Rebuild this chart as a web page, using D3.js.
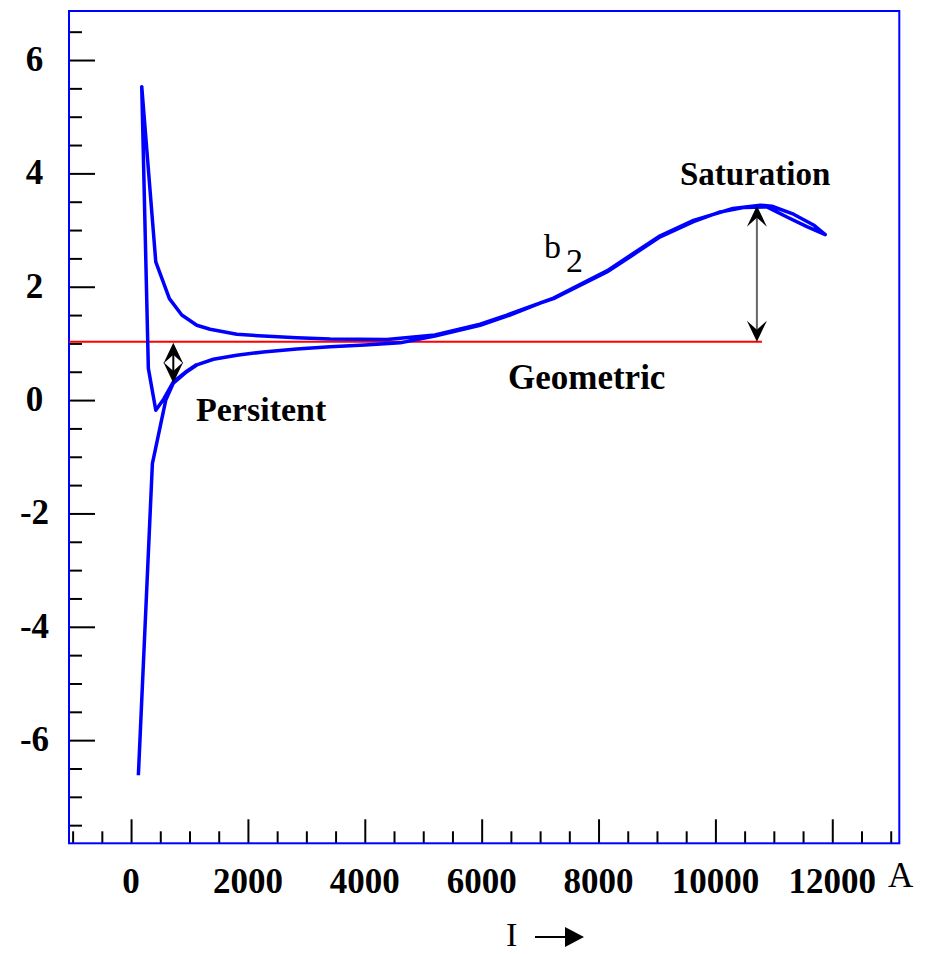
<!DOCTYPE html>
<html>
<head>
<meta charset="utf-8">
<script src="https://cdn.jsdelivr.net/npm/d3@7"></script>
<style>
  body { margin: 0; background: #fff; }
  text { font-family: "Liberation Serif", "Times New Roman", serif; fill: #000; }
</style>
</head>
<body>
<div id="chart"></div>
<script>
var width = 935
var height = 954

// b2 loop, traced in order: ramp up, ramp down, then the re-ramp at low current
var rampUpI  = [125, 365, 594, 724, 953, 1125, 1409, 1809, 2265, 2836, 3406, 4000, 4605, 5200, 5974, 6431, 7001, 7229, 8143, 8542, 9055, 9625, 10082, 10500, 10881, 11224, 11566, 11880]
var rampUpB2 = [-6.62, -1.12, 0.0, 0.30, 0.50, 0.62, 0.72, 0.79, 0.85, 0.90, 0.94, 0.97, 1.01, 1.13, 1.32, 1.48, 1.71, 1.79, 2.26, 2.53, 2.88, 3.15, 3.32, 3.40, 3.41, 3.23, 3.06, 2.92]

var rampDownI  = [11880, 11679, 11337, 10967, 10767, 10300, 9625, 9055, 8542, 8143, 7229, 6431, 5974, 5200, 4377, 3406, 2836, 2265, 1809, 1352, 1125, 868, 656, 423, 183]
var rampDownB2 = [2.92, 3.09, 3.28, 3.42, 3.44, 3.38, 3.17, 2.90, 2.55, 2.28, 1.80, 1.50, 1.34, 1.15, 1.07, 1.08, 1.10, 1.13, 1.16, 1.25, 1.32, 1.50, 1.79, 2.44, 5.53]

var reRampI  = [183, 296, 423, 560, 724, 953, 1125]
var reRampB2 = [5.53, 0.56, -0.18, 0.02, 0.32, 0.51, 0.63]

var geometricB2 = 1.03
var geometricEndI = 10796

var xTickLabels = [0, 2000, 4000, 6000, 8000, 10000, 12000]
var yTickLabels = [-6, -4, -2, 0, 2, 4, 6]

var svg = d3.select("#chart")
  .append("svg")
  .attr("width", width)
  .attr("height", height)

var x = d3.scaleLinear().domain([-1062, 13147]).range([69, 899.3])
var y = d3.scaleLinear().domain([-7.82, 6.865]).range([843.3, 11])

// ticks: y ticks point right from the left edge, x ticks point up from the bottom
var yMinor = d3.range(-7.5, 6.6, 0.5).filter(function (v) { return Math.abs(v % 2) > 0.01 })
var xMinor = d3.range(-1000, 13001, 500).filter(function (v) { return v % 2000 !== 0 })

svg.append("g")
  .attr("transform", "translate(69,0)")
  .call(d3.axisLeft(y).tickValues(yTickLabels).tickSize(-26).tickFormat(""))
svg.append("g")
  .attr("transform", "translate(69,0)")
  .call(d3.axisLeft(y).tickValues(yMinor).tickSize(-13).tickFormat(""))
svg.append("g")
  .attr("transform", "translate(0,843.3)")
  .call(d3.axisBottom(x).tickValues(xTickLabels).tickSize(-24).tickFormat(""))
svg.append("g")
  .attr("transform", "translate(0,843.3)")
  .call(d3.axisBottom(x).tickValues(xMinor).tickSize(-12).tickFormat(""))

svg.selectAll(".domain").remove()
svg.selectAll(".tick line").attr("stroke", "#000").attr("stroke-width", 2)

// frame
svg.append("rect")
  .attr("x", 69).attr("y", 11)
  .attr("width", 899.3 - 69).attr("height", 843.3 - 11)
  .attr("fill", "none")
  .attr("stroke", "#0000ff")
  .attr("stroke-width", 2)

// tick labels
svg.selectAll(".ylab")
  .data(yTickLabels)
  .enter()
  .append("text")
  .attr("x", 34.5)
  .attr("y", function (d) { return y(d) + 11 })
  .attr("text-anchor", "middle")
  .style("font-size", "35px")
  .style("font-weight", "bold")
  .text(function (d) { return d })

svg.selectAll(".xlab")
  .data(xTickLabels)
  .enter()
  .append("text")
  .attr("x", function (d) { return x(d) })
  .attr("y", 893)
  .attr("text-anchor", "middle")
  .style("font-size", "35px")
  .style("font-weight", "bold")
  .text(function (d) { return d })

svg.append("text").attr("x", 888).attr("y", 887)
  .style("font-size", "35px").text("A")
svg.append("text").attr("x", 506).attr("y", 946)
  .style("font-size", "34px").text("I")
svg.append("line")
  .attr("x1", 535).attr("x2", 566).attr("y1", 937).attr("y2", 937)
  .attr("stroke", "#000").attr("stroke-width", 2)
svg.append("path")
  .attr("d", "M565,927 L584,937 L565,947 Z")
  .attr("fill", "#000")

// geometric level
svg.append("line")
  .attr("x1", x(-1062)).attr("x2", x(geometricEndI))
  .attr("y1", y(geometricB2)).attr("y2", y(geometricB2))
  .attr("stroke", "#ff0000")
  .attr("stroke-width", 2)

// b2 curve
var loopPts = []
rampUpI.forEach(function (v, i) { loopPts.push([v, rampUpB2[i]]) })
rampDownI.forEach(function (v, i) { loopPts.push([v, rampDownB2[i]]) })
reRampI.forEach(function (v, i) { loopPts.push([v, reRampB2[i]]) })

var line = d3.line()
  .x(function (d) { return x(d[0]) })
  .y(function (d) { return y(d[1]) })

svg.append("path")
  .datum(loopPts)
  .attr("d", line)
  .attr("fill", "none")
  .attr("stroke", "#0000ff")
  .attr("stroke-width", 3.5)
  .attr("stroke-linejoin", "round")

// double arrows between the geometric level and the curve
function doubleArrow(xi, b1, b2, lineColor) {
  var px = x(xi), ya = y(b1), yb = y(b2)
  var top = Math.min(ya, yb), bot = Math.max(ya, yb)
  svg.append("line")
    .attr("x1", px).attr("x2", px).attr("y1", top + 4).attr("y2", bot - 4)
    .attr("stroke", lineColor).attr("stroke-width", 2)
  svg.append("path")
    .attr("d", "M" + px + "," + top + " l-10,21 l10,-9 l10,9 Z")
    .attr("fill", "#000")
  svg.append("path")
    .attr("d", "M" + px + "," + bot + " l-10,-21 l10,9 l10,-9 Z")
    .attr("fill", "#000")
}
doubleArrow(723, geometricB2 - 0.02, 0.30, "#000")
doubleArrow(10710, geometricB2, 3.43, "#666")

// annotations
svg.append("text").attr("x", 680).attr("y", 185)
  .style("font-size", "33px").style("font-weight", "bold").text("Saturation")
svg.append("text").attr("x", 508).attr("y", 389)
  .style("font-size", "35px").style("font-weight", "bold").text("Geometric")
svg.append("text").attr("x", 196).attr("y", 421)
  .style("font-size", "34px").style("font-weight", "bold").text("Persitent")
svg.append("text").attr("x", 544).attr("y", 258)
  .style("font-size", "34px").text("b")
svg.append("text").attr("x", 566).attr("y", 272)
  .style("font-size", "34px").text("2")
</script>
</body>
</html>
